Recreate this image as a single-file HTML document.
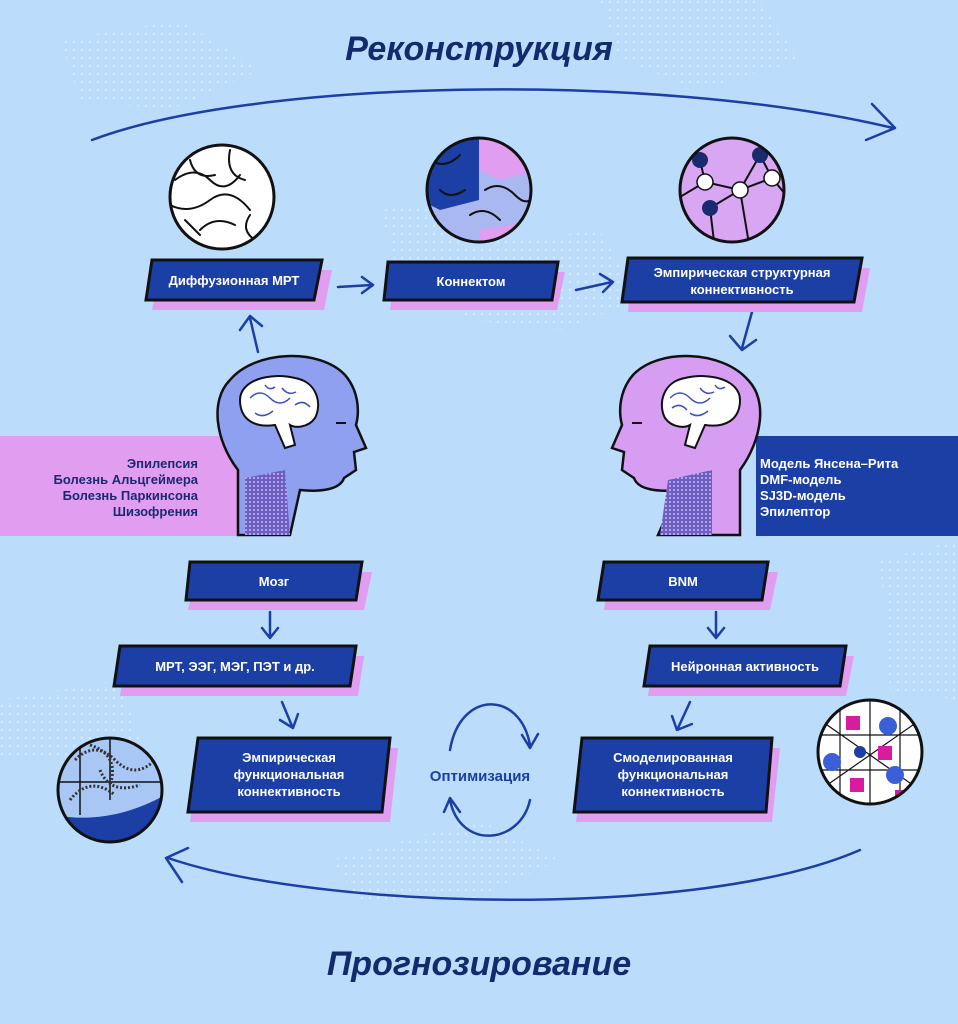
<!DOCTYPE html>
<html><head><meta charset="utf-8"><style>
html,body{margin:0;padding:0;background:#bcdcfb;}
svg{display:block}
text{font-family:"Liberation Sans",sans-serif;}
.lbl{fill:#fff;font-weight:bold;font-size:13px;text-anchor:middle}
.side{fill:#fff;font-weight:bold;font-size:13px}
.ar{fill:none;stroke:#1c3fa6;stroke-width:2.5;stroke-linecap:round;stroke-linejoin:round}
.sq{fill:none;stroke:#111;stroke-width:2;stroke-linecap:round}
</style></head><body>
<svg width="958" height="1024" viewBox="0 0 958 1024" xmlns="http://www.w3.org/2000/svg">
<defs>
<pattern id="dots" width="8" height="8" patternUnits="userSpaceOnUse"><circle cx="2" cy="2" r="1.4" fill="#e4f0fd"/></pattern>
<pattern id="mesh" width="4" height="4" patternUnits="userSpaceOnUse"><rect width="4" height="4" fill="#6d5fc0"/><circle cx="2" cy="2" r="1" fill="#c9b8f5"/></pattern>
<clipPath id="c1"><circle cx="222" cy="197" r="52"/></clipPath>
<clipPath id="c2"><circle cx="479" cy="190" r="52"/></clipPath>
<clipPath id="c3"><circle cx="732" cy="190" r="52"/></clipPath>
<clipPath id="c4"><circle cx="110" cy="790" r="52"/></clipPath>
<clipPath id="c5"><circle cx="870" cy="752" r="52"/></clipPath>
</defs>
<rect width="958" height="1024" fill="#bcdcfb"/>
<g opacity="0.6">
<path d="M380 210 L470 200 L520 240 L600 230 L640 300 L560 330 L470 320 L400 280Z" fill="url(#dots)"/>
<path d="M600 0 L760 0 L800 60 L700 90 L620 60Z" fill="url(#dots)"/>
<path d="M880 560 L958 540 L958 700 L890 690Z" fill="url(#dots)"/>
<path d="M330 860 L480 820 L560 860 L470 900 L360 900Z" fill="url(#dots)"/>
<path d="M0 700 L120 680 L140 740 L40 760 L0 760Z" fill="url(#dots)"/>
<path d="M60 40 L180 20 L260 70 L170 110 L80 100Z" fill="url(#dots)"/>
</g>

<text x="479" y="60" text-anchor="middle" font-size="34" font-weight="bold" font-style="italic" fill="#142a6e">Реконструкция</text>
<text x="479" y="975" text-anchor="middle" font-size="34" font-weight="bold" font-style="italic" fill="#142a6e">Прогнозирование</text>

<path class="ar" d="M92 140 C250 80 650 70 893 128" stroke-width="3"/>
<path class="ar" d="M872 104 L895 128 L866 140" stroke-width="3"/>
<path class="ar" d="M860 850 C700 920 320 910 168 858" stroke-width="3"/>
<path class="ar" d="M188 848 L166 858 L182 882" stroke-width="3"/>

<rect x="0" y="436" width="242" height="100" fill="#e19ef0"/>
<rect x="756" y="436" width="202" height="100" fill="#1c3fa6"/>
<text class="side" text-anchor="end" style="fill:#1a2a6e">
<tspan x="198" y="468">Эпилепсия</tspan><tspan x="198" y="484">Болезнь Альцгеймера</tspan><tspan x="198" y="500">Болезнь Паркинсона</tspan><tspan x="198" y="516">Шизофрения</tspan></text>
<text class="side"><tspan x="760" y="468">Модель Янсена–Рита</tspan><tspan x="760" y="484">DMF-модель</tspan><tspan x="760" y="500">SJ3D-модель</tspan><tspan x="760" y="516">Эпилептор</tspan></text>

<path d="M238 535 L238 470 C215 440 210 400 230 380 C255 350 320 348 345 375 C358 390 360 410 356 425 L366 448 L354 452 L356 470 L344 478 C340 490 320 492 300 490 L290 535Z" fill="#8fa0f0" stroke="#111" stroke-width="2.5"/>
<path d="M245 535 L245 478 L285 470 L290 535Z" fill="url(#mesh)"/>
<path d="M240 400 C240 380 270 372 295 378 C318 382 322 405 315 418 C308 428 295 428 290 425 L295 445 L285 448 L275 425 C255 428 240 420 240 400Z" fill="#fff" stroke="#111" stroke-width="2"/>
<path d="M250 398 q10 -10 20 0 t20 0 M255 413 q8 6 18 -2 M282 388 q6 8 14 4 M295 405 q8 -6 15 2 M265 385 q4 6 10 2" stroke="#3a4fc0" fill="none" stroke-width="1.5"/>
<path d="M336 423 l10 0" stroke="#111" stroke-width="2"/>
<path d="M740 535 L740 470 C762 440 768 400 748 380 C722 350 658 348 633 375 C620 390 618 410 622 425 L612 448 L624 452 L622 470 L634 478 C638 490 658 492 678 490 L658 535Z" fill="#d69df2" stroke="#111" stroke-width="2.5"/>
<path d="M660 535 L668 480 L712 470 L712 535Z" fill="url(#mesh)"/>
<path d="M740 400 C740 380 710 372 685 378 C662 382 658 405 665 418 C672 428 685 428 690 425 L685 445 L695 448 L705 425 C725 428 740 420 740 400Z" fill="#fff" stroke="#111" stroke-width="2"/>
<path d="M670 398 q10 -10 20 0 t20 0 M690 413 q8 6 18 -2 M700 388 q6 8 14 4 M672 408 q8 -6 15 2 M715 385 q4 6 10 2" stroke="#3a4fc0" fill="none" stroke-width="1.5"/>
<path d="M632 423 l10 0" stroke="#111" stroke-width="2"/>

<circle cx="222" cy="197" r="52" fill="#fff"/>
<g clip-path="url(#c1)">
<path class="sq" d="M175 180 q20 -15 35 0 t30 -5 M170 205 q20 10 40 -5 t40 10 M190 160 q5 20 25 15 M230 150 q-5 25 15 30 M200 230 q15 -15 35 -5 M185 220 l15 15 M250 215 q-10 15 5 25"/>
</g>
<circle cx="479" cy="190" r="52" fill="#a9b8f0"/>
<g clip-path="url(#c2)">
<path d="M420 130 L479 130 L479 200 L440 210 L420 200Z" fill="#1c3fa6"/>
<path d="M480 130 L540 130 L540 170 L500 180 L480 170Z" fill="#e19ef0"/>
<path d="M480 230 L540 220 L540 250 L480 250Z" fill="#e19ef0"/>
<path class="sq" d="M430 160 q15 10 30 -5 M485 190 q15 -10 30 5 t20 -5 M470 215 q15 -10 30 5 M440 190 q10 10 25 0"/>
</g>
<circle cx="732" cy="190" r="52" fill="#d9a6f3"/>
<g clip-path="url(#c3)">
<path class="sq" d="M700 160 L705 182 L740 190 L772 178 L760 155 L740 190 L710 208 L715 250 M700 160 L680 150 M760 155 L770 130 M740 190 L750 250 M705 182 L675 200 M772 178 L790 200"/>
</g>
<g fill="#1a2a6e"><circle cx="700" cy="160" r="8"/><circle cx="760" cy="155" r="8"/><circle cx="710" cy="208" r="8"/></g>
<g fill="#fff" stroke="#111" stroke-width="1.5"><circle cx="705" cy="182" r="8"/><circle cx="740" cy="190" r="8"/><circle cx="772" cy="178" r="8"/></g>
<circle cx="110" cy="790" r="52" fill="#a9c7f5"/>
<g clip-path="url(#c4)">
<path d="M55 815 C90 822 130 815 165 795 L165 850 L55 850Z" fill="#1c3fa6"/>
<path d="M58 782 L162 782 M110 738 L110 800 M80 745 L80 815" stroke="#111" stroke-width="1.5"/>
<path d="M75 760 q20 -20 40 0 t40 0 M70 800 q20 -25 45 -5 M100 770 q10 25 40 15 M90 745 q30 10 20 40" fill="none" stroke="#333" stroke-width="3" stroke-dasharray="2 2"/>
</g>
<circle cx="870" cy="752" r="52" fill="#fff"/>
<g clip-path="url(#c5)">
<path d="M818 735 L922 735 M818 770 L922 770 M840 700 L840 805 M870 700 L870 805 M900 700 L900 805 M820 720 L920 790 M820 790 L920 720" stroke="#111" stroke-width="1.2"/>
<g fill="#d81b9f"><rect x="846" y="716" width="14" height="14"/><rect x="878" y="746" width="14" height="14"/><rect x="850" y="778" width="14" height="14"/><rect x="895" y="790" width="12" height="12"/></g>
<g fill="#3a5fd8"><circle cx="832" cy="762" r="9"/><circle cx="888" cy="726" r="9"/><circle cx="895" cy="775" r="9"/><circle cx="860" cy="752" r="6" fill="#1c3fa6"/></g>
</g>
<g fill="none" stroke="#111" stroke-width="3">
<circle cx="222" cy="197" r="52"/><circle cx="479" cy="190" r="52"/><circle cx="732" cy="190" r="52"/><circle cx="110" cy="790" r="52"/><circle cx="870" cy="752" r="52"/>
</g>

<path class="ar" d="M338 287 L372 285 M362 277 L373 285 L362 293"/>
<path class="ar" d="M576 290 L612 282 M600 274 L613 282 L603 292"/>
<path class="ar" d="M752 312 L742 348 M730 336 L742 350 L756 340"/>
<path class="ar" d="M258 352 L250 318 M240 330 L250 316 L262 326"/>
<path class="ar" d="M270 612 L270 636 M262 628 L270 638 L278 628"/>
<path class="ar" d="M282 702 L292 726 M280 720 L293 728 L298 714"/>
<path class="ar" d="M716 612 L716 636 M708 628 L716 638 L724 628"/>
<path class="ar" d="M690 702 L678 728 M672 716 L677 730 L692 724"/>
<path class="ar" d="M450 750 C460 690 520 690 530 745 M522 735 L530 748 L538 734" stroke-width="3"/>
<path class="ar" d="M530 800 C520 845 460 850 450 800 M444 812 L450 798 L460 812" stroke-width="3"/>
<text x="480" y="781" text-anchor="middle" font-size="15" font-weight="bold" fill="#1c3fa6">Оптимизация</text>

<g stroke="#111" stroke-width="3">
<path d="M160 270 L332 270 L324 310 L152 310Z" fill="#e19ef0" stroke="none"/>
<path d="M152 260 L322 260 L314 300 L146 300Z" fill="#1c3fa6"/>
<path d="M395 272 L565 272 L557 310 L390 310Z" fill="#e19ef0" stroke="none"/>
<path d="M388 262 L558 262 L552 300 L384 300Z" fill="#1c3fa6"/>
<path d="M632 268 L870 268 L862 312 L628 312Z" fill="#e19ef0" stroke="none"/>
<path d="M628 258 L862 258 L854 302 L622 302Z" fill="#1c3fa6"/>
<path d="M196 572 L372 572 L364 610 L188 610Z" fill="#e19ef0" stroke="none"/>
<path d="M190 562 L362 562 L356 600 L186 600Z" fill="#1c3fa6"/>
<path d="M126 656 L364 656 L358 696 L120 696Z" fill="#e19ef0" stroke="none"/>
<path d="M120 646 L356 646 L350 686 L114 686Z" fill="#1c3fa6"/>
<path d="M200 748 L398 748 L390 822 L190 822Z" fill="#e19ef0" stroke="none"/>
<path d="M198 738 L390 738 L382 812 L188 812Z" fill="#1c3fa6"/>
<path d="M610 572 L778 572 L770 610 L604 610Z" fill="#e19ef0" stroke="none"/>
<path d="M604 562 L768 562 L762 600 L598 600Z" fill="#1c3fa6"/>
<path d="M654 656 L854 656 L846 696 L648 696Z" fill="#e19ef0" stroke="none"/>
<path d="M650 646 L846 646 L840 686 L644 686Z" fill="#1c3fa6"/>
<path d="M586 748 L780 748 L772 822 L576 822Z" fill="#e19ef0" stroke="none"/>
<path d="M582 738 L772 738 L766 812 L574 812Z" fill="#1c3fa6"/>
</g>
<text class="lbl" x="234" y="285">Диффузионная МРТ</text>
<text class="lbl" x="471" y="286">Коннектом</text>
<text class="lbl" x="742" y="277">Эмпирическая структурная</text>
<text class="lbl" x="742" y="294">коннективность</text>
<text class="lbl" x="274" y="586">Мозг</text>
<text class="lbl" x="235" y="671">МРТ, ЭЭГ, МЭГ, ПЭТ и др.</text>
<text class="lbl" x="289" y="762">Эмпирическая</text>
<text class="lbl" x="289" y="779">функциональная</text>
<text class="lbl" x="289" y="796">коннективность</text>
<text class="lbl" x="683" y="586">BNM</text>
<text class="lbl" x="745" y="671">Нейронная активность</text>
<text class="lbl" x="673" y="762">Смоделированная</text>
<text class="lbl" x="673" y="779">функциональная</text>
<text class="lbl" x="673" y="796">коннективность</text>
</svg>
</body></html>
